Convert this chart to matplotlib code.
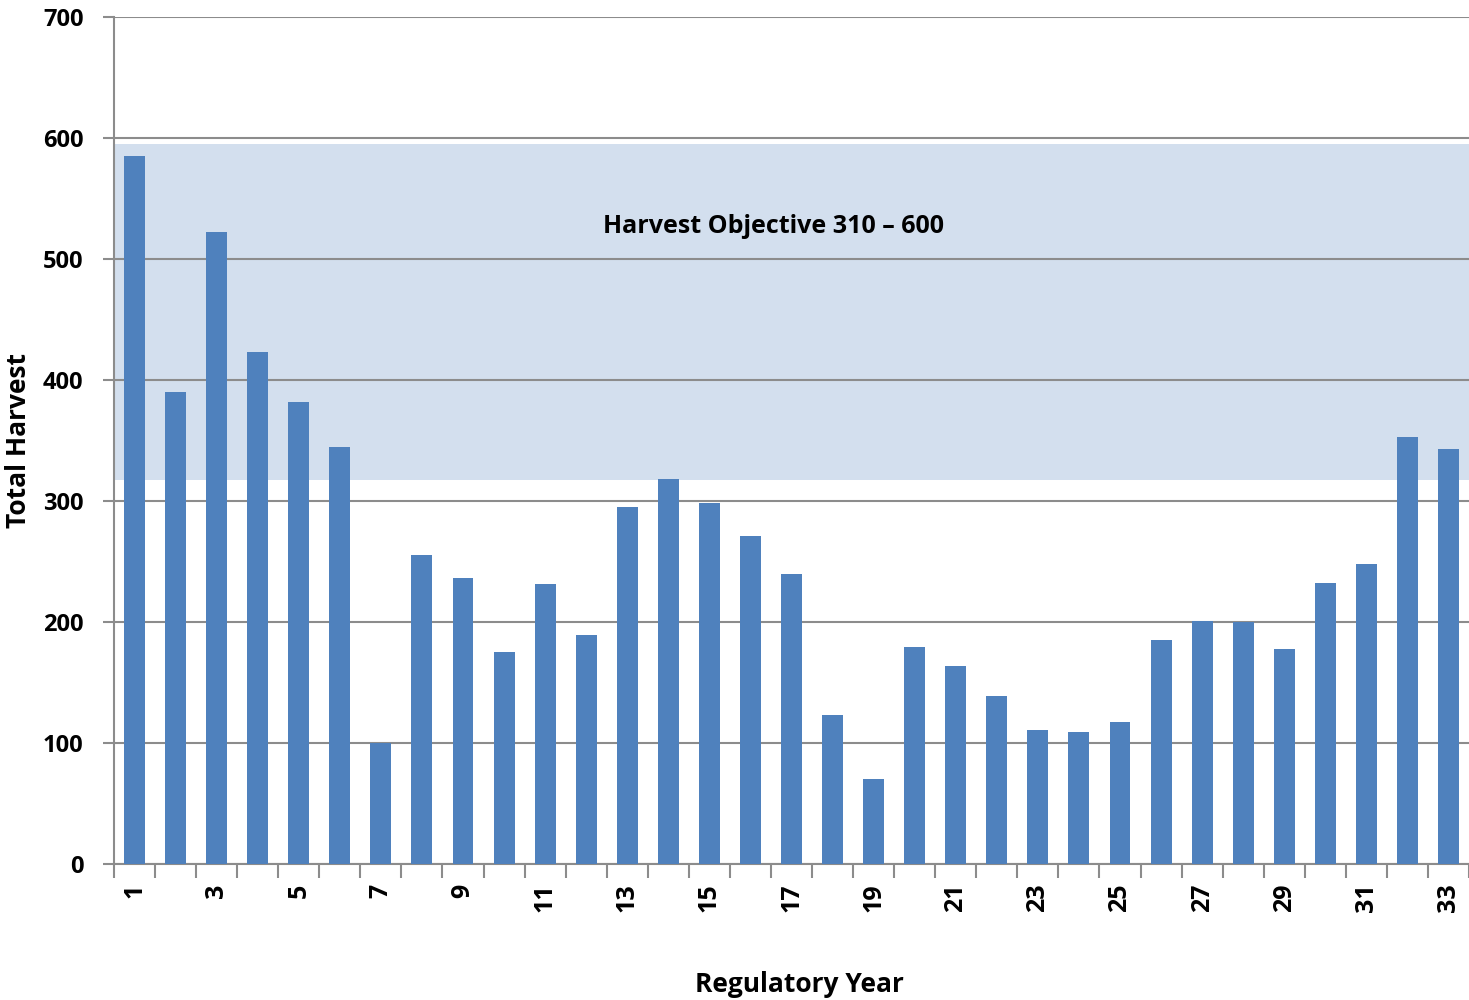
import numpy as np
import matplotlib.pyplot as plt

# Total harvest by regulatory year
years = list(range(1, 34))
harvest = [585, 390, 522, 423, 382, 345, 100, 255, 236, 175, 231, 189,
           295, 318, 298, 271, 240, 123, 70, 179, 164, 139, 111, 109,
           117, 185, 201, 200, 178, 232, 248, 353, 343]
objective_low = 317
objective_high = 595
objective_label = "Harvest Objective 310 \u2013 600"

plt.rcParams["font.family"] = ["Open Sans", "DejaVu Sans"]
plt.rcParams["font.weight"] = "bold"

fig = plt.figure(figsize=(14.69, 10), dpi=100)
ax = fig.add_axes([114 / 1469, 0.136, 1 - 114 / 1469, 0.847])

x = np.arange(len(years))
ax.axhspan(objective_low, objective_high, color="#d3dfee", zorder=0, lw=0)
ax.bar(x, harvest, width=0.51, color="#4f81bd", zorder=3)

ax.set_ylim(0, 700)
ax.set_xlim(-0.5, 32.3)
ax.set_yticks(range(0, 701, 100))
ax.yaxis.grid(True, color="#8c8c8c", lw=1.5, zorder=1)
ax.set_axisbelow(True)

# tick marks between categories, labels on odd years
ax.set_xticks(np.arange(-0.5, len(years), 1.0))
ax.set_xticklabels([])
odd = [i for i in x if years[i] % 2 == 1]
ax.set_xticks(odd, minor=True)
ax.set_xticklabels([str(years[i]) for i in odd], minor=True,
                   rotation=90, fontsize=18, fontweight="bold")
ax.tick_params(axis="x", which="major", length=10, width=1.5,
               color="#8c8c8c", direction="out")
ax.tick_params(axis="x", which="minor", length=0, pad=14)
ax.tick_params(axis="y", length=8, width=1.5, color="#8c8c8c",
               labelsize=17, pad=14)
for lab in ax.get_yticklabels():
    lab.set_fontweight("bold")

for side in ["top", "right"]:
    ax.spines[side].set_visible(False)
for side in ["left", "bottom"]:
    ax.spines[side].set_color("#8c8c8c")
    ax.spines[side].set_linewidth(1.5)

ax.text(15.56, 527, objective_label, ha="center", va="center",
        fontsize=18, fontweight="bold", zorder=4)

ax.set_ylabel("Total Harvest", fontsize=19, fontweight="bold", labelpad=8)
ax.set_xlabel("Regulatory Year", fontsize=19, fontweight="bold", labelpad=42)
ax.xaxis.label.set_x(0.506)

fig.savefig("out.png", dpi=100)
